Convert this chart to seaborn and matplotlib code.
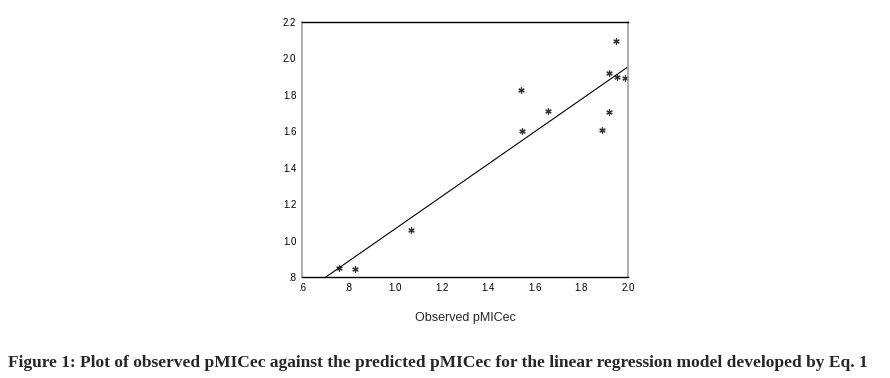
import matplotlib.pyplot as plt
import seaborn as sns
import pandas as pd

# observed vs predicted pMICec
observed = [0.760, 0.829, 1.068, 1.542, 1.546, 1.658, 1.889, 1.920, 1.917, 1.950, 1.953, 1.987]
predicted = [0.850, 0.844, 1.057, 1.826, 1.604, 1.714, 1.607, 1.708, 1.919, 2.094, 1.899, 1.894]
xticks = [0.6, 0.8, 1.0, 1.2, 1.4, 1.6, 1.8, 2.0]
xtick_labels = [".6", ".8", "1.0", "1.2", "1.4", "1.6", "1.8", "2.0"]
yticks = [0.8, 1.0, 1.2, 1.4, 1.6, 1.8, 2.0, 2.2]
ytick_labels = [".8", "1.0", "1.2", "1.4", "1.6", "1.8", "2.0", "2.2"]

df = pd.DataFrame({"observed": observed, "predicted": predicted})

sns.set_style("white")
plt.rcParams['font.family'] = ['Liberation Sans', 'DejaVu Sans']

fig = plt.figure(figsize=(8.9, 3.78), dpi=100)
ax = fig.add_axes([0.3393, 0.2672, 0.3663, 0.6746])
ax.set_xlim(0.6, 2.0)
ax.set_ylim(0.8, 2.2)

sns.regplot(x="observed", y="predicted", data=df, ax=ax, ci=None, truncate=False,
            marker=(6, 2, 0),
            scatter_kws={"s": 15, "color": "black", "linewidths": 0.9},
            line_kws={"color": "black", "linewidth": 0.8})

ax.set_xlim(0.6, 2.0)
ax.set_ylim(0.8, 2.2)
ax.set_xticks(xticks)
ax.set_xticklabels(xtick_labels)
ax.set_yticks(yticks)
ax.set_yticklabels(ytick_labels)
ax.tick_params(direction="out", length=2, width=1, labelsize=7, pad=2, colors="black")
ax.set_xlabel("Observed pMICec", fontsize=9, labelpad=14)
ax.set_ylabel("")

for side in ["top", "bottom"]:
    ax.spines[side].set_color("black")
    ax.spines[side].set_linewidth(1.0)
for side in ["left", "right"]:
    ax.spines[side].set_color("#a0a0a0")
    ax.spines[side].set_linewidth(1.2)

fig.text(0.4922, 0.04,
         "Figure 1: Plot of observed pMICec against the predicted pMICec for the linear regression model developed by Eq. 1",
         ha="center", va="center", fontsize=12.5, fontweight="bold", family=["Liberation Serif"])

plt.savefig("out.png", dpi=100)
